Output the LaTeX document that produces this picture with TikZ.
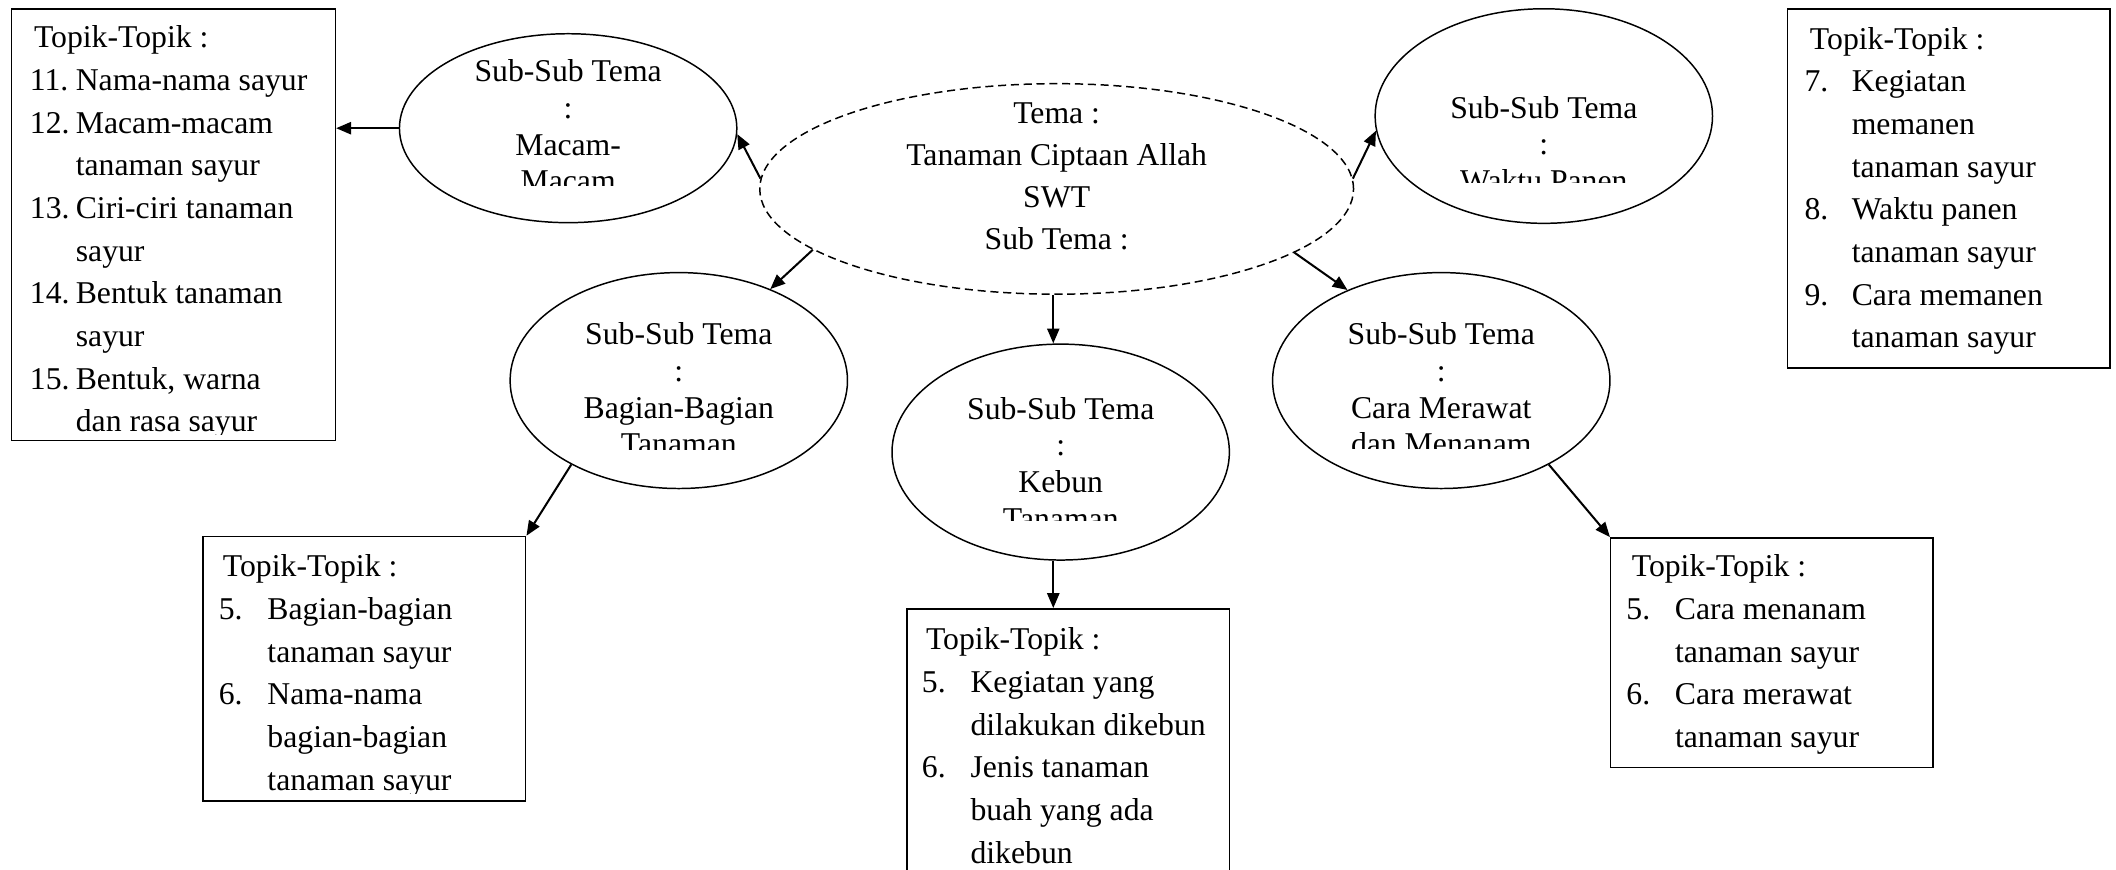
\documentclass[tikz,border=0pt]{standalone}
\usepackage{fontspec}
\setmainfont{Liberation Serif}
\usetikzlibrary{arrows.meta,shapes.geometric}
\newcommand{\hn}[3]{\makebox[#1][l]{#2}#3}
\begin{document}
\begin{tikzpicture}[x=1pt,y=-1pt,
  ell/.style={ellipse, draw, line width=1.1pt, inner sep=0pt, minimum width=250pt},
  tbox/.style={rectangle, draw, line width=1.1pt, inner sep=0pt, anchor=north west},
  etxt/.style={inner sep=0pt, anchor=north, align=center, font=\fontsize{23.5}{27.2}\selectfont},
  btxt/.style={inner sep=0pt, anchor=north west, align=left, font=\fontsize{23.5}{31.6}\selectfont},
  arr/.style={-{Triangle[length=11pt,width=9pt]}, line width=1.5pt},
]
\useasboundingbox (0,0) rectangle (1568,644);
\clip (0,0) rectangle (1568,644);

% ellipses
\node[ell, dashed, dash pattern=on 6pt off 3.5pt, minimum width=440pt, minimum height=156pt] (tema) at (783,140) {};
\node[ell, minimum height=140pt] (mac) at (421,95) {};
\node[ell, minimum height=159pt] (wak) at (1144,86) {};
\node[ell, minimum height=160pt] (bag) at (503,282) {};
\node[ell, minimum height=160pt] (keb) at (786,335) {};
\node[ell, minimum height=160pt] (cara) at (1068,282) {};

% boxes
\node[tbox, minimum width=240pt, minimum height=320pt] (b1) at (8,6) {};
\node[tbox, minimum width=239pt, minimum height=266pt] (b5) at (1324,6) {};
\node[tbox, minimum width=239pt, minimum height=196pt] (b2) at (150,397) {};
\node[tbox, minimum width=239pt, minimum height=230pt] (b3) at (671.5,450.6) {};
\node[tbox, minimum width=239pt, minimum height=170pt] (b4) at (1193,398) {};
\coordinate (kx) at (780.5,0);

% ellipse texts
\node[etxt, font=\fontsize{23.5}{31}\selectfont] (temat) at (783,76) {Tema :\\Tanaman Ciptaan Allah\\SWT\\Sub Tema :};
\begin{scope}
\clip (296,0) rectangle (546,137.5);
\node[etxt] (mact) at (421,44) {Sub-Sub Tema\\:\\Macam-\\Macam};
\end{scope}
\begin{scope}
\clip (1019,0) rectangle (1269,135.5);
\node[etxt] (wakt) at (1144,71) {Sub-Sub Tema\\:\\Waktu Panen};
\end{scope}
\begin{scope}
\clip (378,190) rectangle (628,333);
\node[etxt] (bagt) at (503,239) {Sub-Sub Tema\\:\\Bagian-Bagian\\Tanaman};
\end{scope}
\begin{scope}
\clip (660,255) rectangle (910,385.5);
\node[etxt] (kebt) at (786,294) {Sub-Sub Tema\\:\\Kebun\\Tanaman};
\end{scope}
\begin{scope}
\clip (943,195) rectangle (1193,332.5);
\node[etxt] (carat) at (1068,239) {Sub-Sub Tema\\:\\Cara Merawat\\dan Menanam};
\end{scope}

% box texts
\begin{scope}
\clip (b1.north west) rectangle ([yshift=5pt]b1.south east);
\node[btxt] (b1t) at (22,19) {\hspace*{3pt}Topik-Topik :\\
\hn{34pt}{11.}{Nama-nama sayur}\\
\hn{34pt}{12.}{Macam-macam}\\
\hspace*{34pt}tanaman sayur\\
\hn{34pt}{13.}{Ciri-ciri tanaman}\\
\hspace*{34pt}sayur\\
\hn{34pt}{14.}{Bentuk tanaman}\\
\hspace*{34pt}sayur\\
\hn{34pt}{15.}{Bentuk, warna}\\
\hspace*{34pt}dan rasa sayur};
\end{scope}
\begin{scope}
\clip (b5.north west) rectangle ([yshift=4pt]b5.south east);
\node[btxt] (b5t) at (1337,20) {\hspace*{4pt}Topik-Topik :\\
\hn{35pt}{7.}{Kegiatan}\\
\hspace*{35pt}memanen\\
\hspace*{35pt}tanaman sayur\\
\hn{35pt}{8.}{Waktu panen}\\
\hspace*{35pt}tanaman sayur\\
\hn{35pt}{9.}{Cara memanen}\\
\hspace*{35pt}tanaman sayur};
\end{scope}
\begin{scope}
\clip (b2.north west) rectangle ([yshift=6pt]b2.south east);
\node[btxt] (b2t) at (162,411) {\hspace*{3pt}Topik-Topik :\\
\hn{36pt}{5.}{Bagian-bagian}\\
\hspace*{36pt}tanaman sayur\\
\hn{36pt}{6.}{Nama-nama}\\
\hspace*{36pt}bagian-bagian\\
\hspace*{36pt}tanaman sayur};
\end{scope}
\begin{scope}
\clip (b3.north west) rectangle ([yshift=4pt]b3.south east);
\node[btxt] (b3t) at (683,465) {\hspace*{3pt}Topik-Topik :\\
\hn{36pt}{5.}{Kegiatan yang}\\
\hspace*{36pt}dilakukan dikebun\\
\hn{36pt}{6.}{Jenis tanaman}\\
\hspace*{36pt}buah yang ada\\
\hspace*{36pt}dikebun};
\end{scope}
\begin{scope}
\clip (b4.north west) rectangle ([yshift=4pt]b4.south east);
\node[btxt] (b4t) at (1205,411) {\hspace*{4pt}Topik-Topik :\\
\hn{36pt}{5.}{Cara menanam}\\
\hspace*{36pt}tanaman sayur\\
\hn{36pt}{6.}{Cara merawat}\\
\hspace*{36pt}tanaman sayur};
\end{scope}

% connectors
\draw[arr] (tema.178) -- (mac.358);
\draw[arr] (tema.2) -- (wak.185);
\draw[arr] (tema.194) -- (bag.45);
\draw[arr] (tema.345) -- (cara.136);
\draw[arr] (kx |- tema.south) -- (kx |- keb.north);
\draw[arr] (mac.west) -- (mac.west -| b1.east);
\draw[arr] (bag.218) -- (b2.north east);
\draw[arr] (kx |- keb.south) -- (kx |- b3.north);
\draw[arr] (cara.322) -- (b4.north west);
\end{tikzpicture}
\end{document}
